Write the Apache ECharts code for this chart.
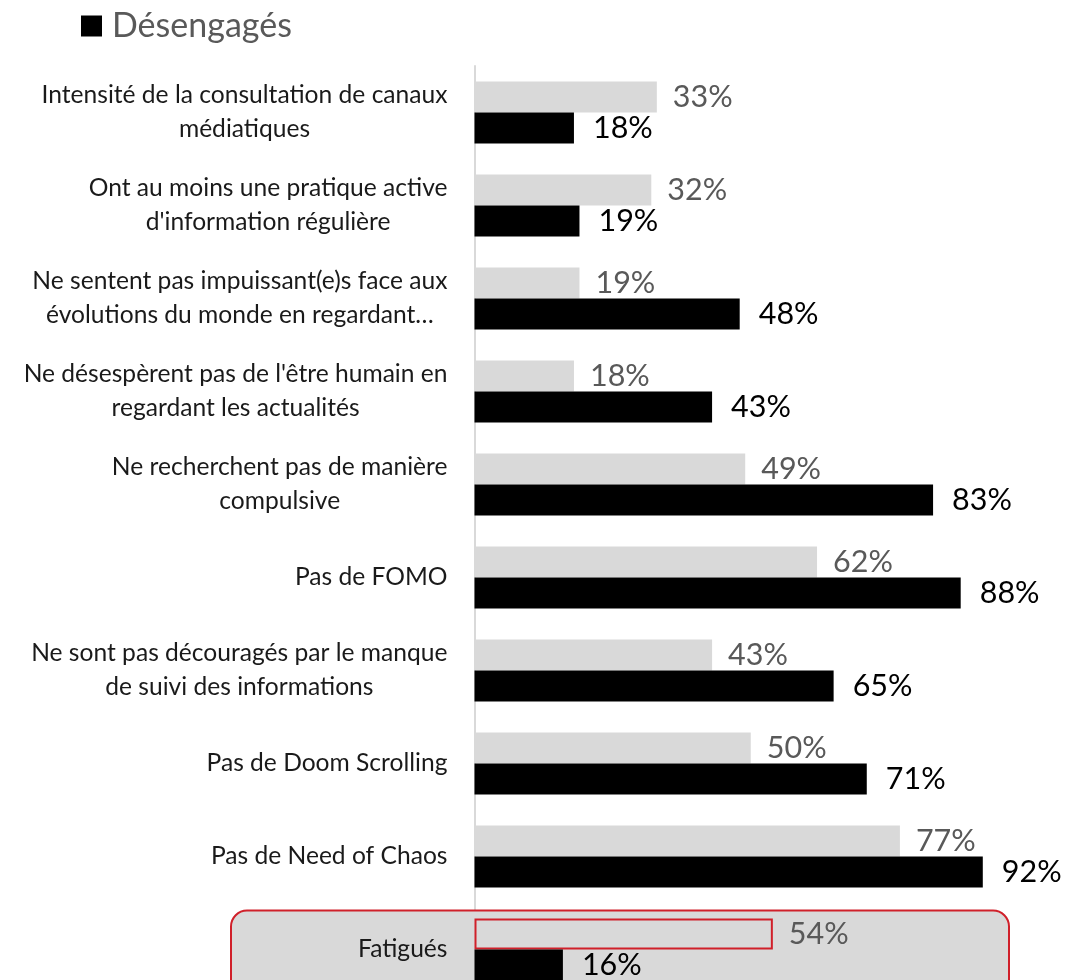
<!DOCTYPE html>
<html><head><meta charset="utf-8">
<script src="https://cdn.jsdelivr.net/npm/echarts@6/dist/echarts.min.js"></script>
<style>html,body{margin:0;padding:0;background:#fff}#c{width:1076px;height:980px}</style>
</head><body><div id="c"></div>
<script>
const categories = [
  "Intensité de la consultation de canaux\nmédiatiques",
  "Ont au moins une pratique active\nd'information régulière",
  "Ne sentent pas impuissant(e)s face aux\névolutions du monde en regardant…",
  "Ne désespèrent pas de l'être humain en\nregardant les actualités",
  "Ne recherchent pas de manière\ncompulsive",
  "Pas de FOMO",
  "Ne sont pas découragés par le manque\nde suivi des informations",
  "Pas de Doom Scrolling",
  "Pas de Need of Chaos",
  "Fatigués"
];
const ensembleValues = [33, 32, 19, 18, 49, 62, 43, 50, 77, 54];
const desengagesValues = [18, 19, 48, 43, 83, 88, 65, 71, 92, 16];
const seriesNames = ["Ensemble", "Désengagés"];
const highlightCategory = "Fatigués";

const FONT = "Lato";
const RED = "#d0202a";
const chart = echarts.init(document.getElementById('c'), null, {renderer: 'canvas'});

const greyData = ensembleValues.map((v, i) => categories[i] === highlightCategory
  ? {value: v, itemStyle: {color: '#d9d9d9', borderColor: RED, borderWidth: 2}}
  : v);

chart.setOption({
  animation: false,
  backgroundColor: '#fff',
  textStyle: {fontFamily: FONT},
  legend: {
    data: [seriesNames[1]],
    left: 76, top: 4,
    icon: 'rect', itemWidth: 21, itemHeight: 21, itemGap: 10,
    textStyle: {fontSize: 34, color: '#595959', fontFamily: FONT, padding: [0, 0, 0, 5]}
  },
  grid: {left: 474.5, right: 49, top: 66, height: 930, containLabel: false, outerBoundsMode: 'none'},
  xAxis: {type: 'value', min: 0, max: 100, show: false},
  yAxis: [
    {
      type: 'category', data: categories, inverse: true, position: 'left', z: 5,
      axisLine: {show: false}, axisTick: {show: false}, splitLine: {show: false},
      axisLabel: {
        margin: 27, color: '#1a1a1a', fontSize: 24.6, fontFamily: FONT, lineHeight: 34,
        formatter: v => v.split('\n').map(l => '{c|' + l + '}').join('\n'),
        rich: {c: {align: 'center', fontSize: 24.6, lineHeight: 34, color: '#1a1a1a', fontFamily: FONT}}
      }
    },
    {
      type: 'category', data: categories, inverse: true, position: 'left', z: 0,
      axisLine: {show: true, lineStyle: {color: '#d9d9d9', width: 2}},
      axisTick: {show: false}, axisLabel: {show: false}, splitLine: {show: false}
    }
  ],
  series: [
    {
      name: seriesNames[0], type: 'bar', yAxisIndex: 0, data: greyData,
      barWidth: 31, barGap: '0%', z: 3,
      itemStyle: {color: '#d9d9d9'},
      label: {show: true, position: 'right', distance: 16, formatter: '{c}%',
        color: '#595959', fontSize: 30.5, fontFamily: FONT}
    },
    {
      name: seriesNames[1], type: 'bar', yAxisIndex: 0, data: desengagesValues,
      barWidth: 31, barGap: '0%', z: 3,
      itemStyle: {color: '#000'},
      label: {show: true, position: 'right', distance: 19, formatter: '{c}%',
        color: '#000', fontSize: 30.5, fontFamily: FONT}
    }
  ]
});

const cy = chart.convertToPixel({yAxisIndex: 0}, highlightCategory);
chart.setOption({
  graphic: [{
    type: 'rect', z: 1, silent: true,
    shape: {x: 231, y: cy - 39, width: 778, height: 120, r: 16},
    style: {fill: '#d9d9d9', stroke: RED, lineWidth: 2}
  }]
});
</script></body></html>
